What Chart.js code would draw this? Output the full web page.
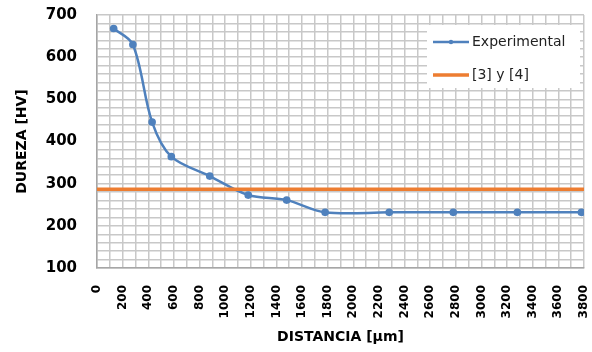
<!DOCTYPE html>
<html>
<head>
<meta charset="utf-8">
<script src="https://cdn.jsdelivr.net/npm/chart.js@4"></script>
<style>
  html, body { margin: 0; padding: 0; background: #fff; }
  #wrap { width: 592px; height: 352px; }
</style>
</head>
<body>
<div id="wrap"><canvas id="myChart"></canvas></div>
<script>
// distancia [µm] / dureza [HV]
const distancia = [130, 280, 430, 580, 880, 1180, 1480, 1780, 2280, 2780, 3280, 3780];
const dureza = [668, 630, 446, 364, 318, 273, 261, 232, 232, 232, 232, 232];

// referencia [3] y [4]
const refX = [0, 3800];
const refY = [287, 287];

const xTicks = [0, 200, 400, 600, 800, 1000, 1200, 1400, 1600, 1800, 2000, 2200, 2400, 2600, 2800, 3000, 3200, 3400, 3600, 3800];
const yTicks = [100, 200, 300, 400, 500, 600, 700];

const labels = ['Experimental', '[3] y [4]'];

const blue = '#4f81bd';
const orange = '#ed7d31';

function toPoints(xs, ys) {
    return xs.map((x, i) => ({x: x, y: ys[i]}));
}

// fixed axis size, no extra label padding
function fixSize(s, w, h) {
    if (w) s.width = w;
    if (h) s.height = h;
    s.paddingTop = 0;
    s.paddingBottom = 0;
    s.paddingLeft = 0;
    s.paddingRight = 0;
}

// legend drawn inside the plot, white box at top right
const boxLegend = {
    id: 'boxLegend',
    afterDatasetsDraw(chart) {
        const ctx = chart.ctx;
        const area = chart.chartArea;
        const w = 153, h = 63;
        const x0 = area.right - w - 4;
        const y0 = area.top + 10;
        ctx.save();
        ctx.fillStyle = '#fff';
        ctx.fillRect(x0, y0, w, h);
        ctx.font = '14px "DejaVu Sans"';
        ctx.textBaseline = 'middle';
        chart.data.datasets.forEach((ds, i) => {
            const cy = y0 + 17 + i * 33;
            ctx.strokeStyle = ds.borderColor;
            ctx.lineWidth = ds.borderWidth;
            ctx.beginPath();
            ctx.moveTo(x0 + 6, cy);
            ctx.lineTo(x0 + 42, cy);
            ctx.stroke();
            if (ds.pointRadius > 0) {
                ctx.fillStyle = ds.borderColor;
                ctx.beginPath();
                ctx.arc(x0 + 24, cy, 2.2, 0, Math.PI * 2);
                ctx.fill();
            }
            ctx.fillStyle = '#222';
            ctx.fillText(ds.label, x0 + 45, cy);
        });
        ctx.restore();
    }
};

const ctx = document.getElementById('myChart');

new Chart(ctx, {
    type: 'scatter',
    data: {
        datasets: [{
            label: labels[0],
            data: toPoints(distancia, dureza),
            showLine: true,
            borderColor: blue,
            backgroundColor: blue,
            borderWidth: 2.5,
            pointRadius: 2.6,
            pointHoverRadius: 2.6,
            tension: 0.33,
            order: 1
        }, {
            label: labels[1],
            data: toPoints(refX, refY),
            showLine: true,
            borderColor: orange,
            backgroundColor: orange,
            borderWidth: 3.5,
            pointRadius: 0,
            order: 0
        }]
    },
    options: {
        responsive: true,
        maintainAspectRatio: false,
        animation: false,
        layout: {padding: {top: 15, right: 8, left: 0, bottom: 0}},
        plugins: {
            legend: {display: false},
            tooltip: {enabled: false}
        },
        scales: {
            x: {
                type: 'linear',
                min: 0,
                max: 3800,
                afterFit: (s) => fixSize(s, 0, 84),
                ticks: {
                    stepSize: 100,
                    autoSkip: false,
                    minRotation: 90,
                    maxRotation: 90,
                    padding: 17,
                    color: '#000',
                    font: {family: 'DejaVu Sans', size: 12, weight: 'bold'},
                    callback: (v) => xTicks.includes(v) ? String(v) : ''
                },
                grid: {color: '#c8c8c8', lineWidth: 1.5, drawTicks: false},
                border: {color: '#a6a6a6', width: 1.5},
                title: {
                    display: true,
                    text: 'DISTANCIA [µm]',
                    color: '#000',
                    font: {family: 'DejaVu Sans', size: 14, weight: 'bold', lineHeight: 1.2},
                    padding: {top: 0, bottom: 6}
                }
            },
            y: {
                min: 100,
                max: 700,
                afterFit: (s) => fixSize(s, 97, 0),
                ticks: {
                    stepSize: 20,
                    autoSkip: false,
                    padding: 20,
                    color: '#000',
                    font: {family: 'DejaVu Sans', size: 15, weight: 'bold'},
                    callback: (v) => yTicks.includes(v) ? String(v) : ''
                },
                grid: {color: '#c8c8c8', lineWidth: 1.5, drawTicks: false},
                border: {color: '#a6a6a6', width: 1.5},
                title: {
                    display: true,
                    text: 'DUREZA [HV]',
                    color: '#000',
                    font: {family: 'DejaVu Sans', size: 14, weight: 'bold', lineHeight: 1.2},
                    padding: {top: 14, bottom: 0}
                }
            }
        }
    },
    plugins: [boxLegend]
});
</script>
</body>
</html>
